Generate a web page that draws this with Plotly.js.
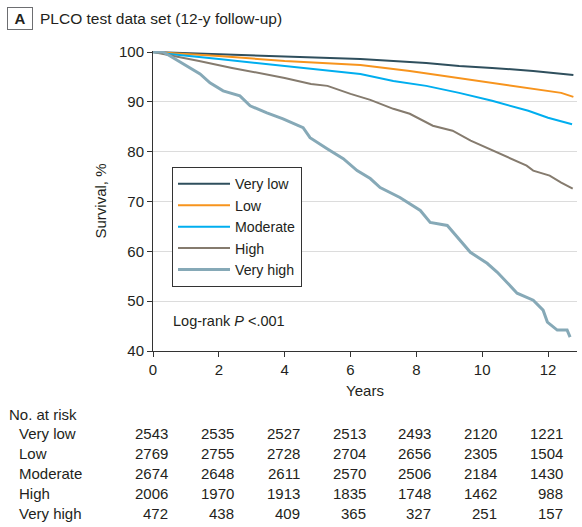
<!DOCTYPE html>
<html>
<head>
<meta charset="utf-8">
<script src="https://cdn.plot.ly/plotly-3.0.1.min.js"></script>
<style>html,body{margin:0;padding:0;background:#fff;}</style>
</head>
<body>
<div id="chart" style="width:582px;height:527px;"></div>
<script>
// ---- data ----
const seriesNames = ["Very low", "Low", "Moderate", "High", "Very high"];

const yearsVeryLow = [0, 0.5, 2, 4, 6.3, 8.3, 9.3, 10.3, 11.55, 12.77];
const survVeryLow  = [100, 99.9, 99.6, 99.2, 98.6, 97.8, 97.2, 96.8, 96.2, 95.4];

const yearsLow = [0, 0.5, 2, 4, 6.3, 7.8, 9.3, 10.3, 11.55, 12.4, 12.77];
const survLow  = [100, 99.8, 99.2, 98.2, 97.4, 96.2, 94.8, 93.8, 92.6, 91.8, 91.0];

const yearsModerate = [0, 0.5, 2, 4, 6.3, 7.3, 8.3, 9.3, 10.3, 11.4, 12, 12.73];
const survModerate  = [100, 99.6, 98.6, 97.2, 95.6, 94.2, 93.2, 91.8, 90.2, 88.2, 86.8, 85.5];

const yearsHigh = [0, 0.5, 1.4, 2.4, 3.25, 4, 4.8, 5.3, 6, 6.6, 7.3, 7.8, 8.5, 9.1, 9.65, 10.55, 11.35, 11.55, 12.05, 12.4, 12.75];
const survHigh  = [100, 99.4, 98.2, 96.8, 95.8, 94.8, 93.6, 93.2, 91.6, 90.4, 88.6, 87.6, 85.2, 84.2, 82.2, 79.6, 77.2, 76.2, 75.2, 73.8, 72.6];

const yearsVeryHigh = [0, 0.3, 0.52, 0.91, 1.43, 1.73, 2.13, 2.64, 2.95, 3.46, 3.95, 4.56, 4.77, 5.29, 5.78, 6.2, 6.6, 6.9, 7.5, 8.12, 8.42, 8.94, 9.24, 9.64, 10.15, 10.46, 11.06, 11.55, 11.85, 11.98, 12.28, 12.58, 12.67];
const survVeryHigh  = [100, 100, 99.2, 97.6, 95.6, 93.8, 92.2, 91.2, 89.2, 87.8, 86.6, 84.8, 82.8, 80.6, 78.6, 76.2, 74.6, 72.8, 70.8, 68.2, 65.8, 65.2, 62.8, 59.8, 57.6, 55.8, 51.6, 50.2, 48.2, 45.8, 44.2, 44.2, 42.8];

const riskYears = [0, 2, 4, 6, 8, 10, 12];
const riskVeryLow  = [2543, 2535, 2527, 2513, 2493, 2120, 1221];
const riskLow      = [2769, 2755, 2728, 2704, 2656, 2305, 1504];
const riskModerate = [2674, 2648, 2611, 2570, 2506, 2184, 1430];
const riskHigh     = [2006, 1970, 1913, 1835, 1748, 1462, 988];
const riskVeryHigh = [472, 438, 409, 365, 327, 251, 157];

const xTicks = [0, 2, 4, 6, 8, 10, 12];
const yTicks = [40, 50, 60, 70, 80, 90, 100];

// ---- styling ----
const FONT = "Liberation Sans, Arial, sans-serif";
const TXT = "#231f20";
const colors = ["#2f4f5d", "#f7941d", "#00aeef", "#857b6e", "#86a9b7"];
const widths = [2, 2, 2, 2, 3];

const xs = [yearsVeryLow, yearsLow, yearsModerate, yearsHigh, yearsVeryHigh];
const ys = [survVeryLow, survLow, survModerate, survHigh, survVeryHigh];
const risks = [riskVeryLow, riskLow, riskModerate, riskHigh, riskVeryHigh];

const traces = seriesNames.map((n, i) => ({
  type: "scatter", mode: "lines", name: n,
  x: xs[i], y: ys[i],
  line: {color: colors[i], width: widths[i]},
  hoverinfo: "skip"
}));

// plot area in pixels: top 51, bottom 351 (height 300)
const plotBottom = 351, plotH = 300;
const py = p => (plotBottom - p) / plotH;

const annotations = [];
annotations.push({
  xref: "paper", yref: "paper", x: (19.5 - 153) / 424, y: py(19),
  xanchor: "center", yanchor: "middle",
  text: "<b>A</b>", showarrow: false,
  font: {family: FONT, size: 15, color: TXT},
  bordercolor: "#6d6e71", borderwidth: 1, borderpad: 2, width: 20, height: 17
});
annotations.push({
  xref: "paper", yref: "paper", x: (171 - 153) / 424, y: py(321),
  xanchor: "left", yanchor: "middle",
  text: "Log-rank <i>P</i> &lt;.001", showarrow: false,
  font: {family: FONT, size: 14.5, color: TXT}
});
annotations.push({
  xref: "paper", yref: "paper", x: (7 - 153) / 424, y: py(414),
  xanchor: "left", yanchor: "middle",
  text: "No. at risk", showarrow: false,
  font: {family: FONT, size: 15, color: TXT}
});
const rowY = [433, 453, 473, 493, 513];
seriesNames.forEach((n, r) => {
  annotations.push({
    xref: "paper", yref: "paper", x: (17 - 153) / 424, y: py(rowY[r]),
    xanchor: "left", yanchor: "middle",
    text: n, showarrow: false,
    font: {family: FONT, size: 15, color: TXT}
  });
  riskYears.forEach((t, c) => {
    annotations.push({
      xref: "x", yref: "paper", x: t, xshift: 17, y: py(rowY[r]),
      xanchor: "right", yanchor: "middle",
      text: String(risks[r][c]), showarrow: false,
      font: {family: FONT, size: 15, color: TXT}
    });
  });
});

const layout = {
  width: 582, height: 527,
  margin: {l: 153, r: 5, t: 51, b: 176, pad: 0},
  paper_bgcolor: "#fff", plot_bgcolor: "#fff",
  font: {family: FONT, size: 15, color: TXT},
  showlegend: true,
  title: {
    text: "PLCO test data set (12-y follow-up)",
    x: 40 / 582, xref: "container", xanchor: "left",
    y: 1 - 19 / 527, yref: "container", yanchor: "middle",
    font: {family: FONT, size: 15.5, color: TXT}
  },
  xaxis: {
    range: [0, 12.88], tickvals: xTicks, ticktext: xTicks.map(String),
    showline: true, linecolor: "#333", linewidth: 1,
    ticks: "outside", ticklen: 5, tickcolor: "#333",
    showgrid: false, zeroline: false,
    tickfont: {family: FONT, size: 15, color: TXT},
    title: {text: "Years", standoff: 8, font: {family: FONT, size: 15, color: TXT}}
  },
  yaxis: {
    range: [40, 100.2], tickvals: yTicks, ticktext: yTicks.map(String),
    showline: true, linecolor: "#333", linewidth: 1,
    ticks: "outside", ticklen: 5, tickcolor: "#333",
    showgrid: true, gridcolor: "#dcdcdc", gridwidth: 1, zeroline: false,
    tickfont: {family: FONT, size: 15, color: TXT},
    title: {text: "Survival, %", standoff: 8, font: {family: FONT, size: 15, color: TXT}}
  },
  legend: {
    x: (172 - 153) / 424, y: py(167), xanchor: "left", yanchor: "top",
    bgcolor: "#fff", bordercolor: "#333", borderwidth: 1,
    font: {family: FONT, size: 14.2, color: TXT},
    itemwidth: 52, tracegroupgap: 0
  },
  annotations: annotations
};

Plotly.newPlot("chart", traces, layout, {staticPlot: true, displayModeBar: false});
</script>
</body>
</html>
